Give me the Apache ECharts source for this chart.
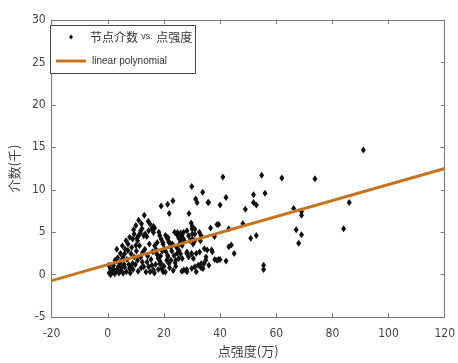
<!DOCTYPE html>
<html>
<head>
<meta charset="utf-8">
<script src="https://cdn.jsdelivr.net/npm/echarts@6/dist/echarts.min.js"></script>
<style>
  html, body { margin: 0; padding: 0; background: #fff; }
  #chart { width: 458px; height: 363px; }
</style>
</head>
<body>
<div id="chart"></div>
<script>
// Tick values along each axis
const xTicks = [-20, 0, 20, 40, 60, 80, 100, 120];
const yTicks = [-5, 0, 5, 10, 15, 20, 25, 30];

// Series names
const scatterName = '节点介数 vs. 点强度';
const fitName = 'linear polynomial';

// Node strength (万) vs. betweenness (千): one [x, y] pair per node
const nodePoints = [
  [91.0, 14.7], [41.0, 11.5], [54.8, 11.7], [62.0, 11.4], [73.8, 11.3],
  [35.9, 8.5], [42.1, 9.1], [40.0, 8.2], [51.9, 9.4], [56.0, 9.6],
  [51.9, 8.5], [52.9, 8.2], [49.0, 7.7], [66.2, 7.8], [69.0, 7.4],
  [69.0, 7.0], [86.0, 8.5], [84.0, 5.4], [67.1, 5.3], [69.0, 4.7],
  [68.0, 3.7], [39.5, 5.9], [38.9, 5.9], [48.1, 6.0], [43.1, 5.4],
  [50.9, 4.3], [52.9, 4.6], [38.0, 4.5], [43.1, 3.3], [44.0, 3.5],
  [45.0, 2.5], [35.4, 2.9], [37.0, 2.9], [38.1, 1.8], [39.5, 1.8],
  [40.0, 1.8], [42.1, 1.6], [55.5, 1.1], [55.5, 0.6],
  [29.9, 10.4], [33.8, 9.7], [31.3, 8.9], [31.8, 8.5], [35.7, 8.5],
  [19.0, 8.1], [21.3, 8.3], [23.2, 8.7], [21.9, 7.2], [28.9, 7.2],
  [14.4, 6.3], [15.0, 6.0], [16.2, 5.7], [16.7, 5.5], [15.6, 5.4],
  [29.7, 6.1], [30.1, 5.7],
  [12.2, 5.4], [11.6, 4.9], [11.0, 4.6], [10.4, 4.3], [13.3, 4.8], [13.9, 4.5],
  [18.2, 5.0], [18.5, 4.6], [19.0, 4.2], [19.6, 3.8], [20.6, 4.6], [21.3, 4.2], [21.8, 3.8],
  [23.8, 5.0], [24.7, 4.7], [25.3, 4.3], [26.0, 4.9], [27.0, 5.0], [26.4, 4.6],
  [27.0, 4.2], [26.1, 4.0], [25.6, 3.6],
  [30.0, 5.4], [30.1, 4.8], [30.1, 4.2], [30.4, 3.6], [32.6, 5.0], [33.2, 4.6],
  [33.0, 4.0], [36.6, 5.5],
  [26.4, 0.4], [28.1, 0.6], [31.5, 0.35], [33.2, 0.8], [34.3, 1.3], [34.9, 1.7],
  [36.0, 1.1], [37.2, 2.7], [38.9, 1.7],
  [28.1, 2.5], [29.8, 2.5], [31.5, 2.5], [24.7, 2.5], [25.3, 1.9], [24.0, 1.4], [24.2, 1.0],
  [20.7, 2.7], [21.3, 2.3], [21.0, 1.7], [21.8, 1.3],
  [16.7, 3.4], [17.3, 2.9], [17.8, 2.3], [18.4, 1.7], [19.0, 1.3],
  [16.25, 4.97], [14.55, 5.16], [12.8, 4.58], [11.7, 5.16], [10.6, 4.0], [10.0, 3.43],
  [9.4, 4.78], [8.85, 4.2],
  [19.7, 3.62], [20.2, 3.04], [21.4, 4.39], [21.9, 3.81], [22.5, 3.24],
  [24.8, 4.97], [25.35, 4.39], [25.9, 3.81], [26.5, 3.43], [27.1, 4.0], [28.2, 5.16],
  [28.8, 4.58], [29.3, 4.0],
  [31.0, 5.35], [31.0, 4.78], [31.0, 4.0],
  [7.15, 2.85], [6.0, 2.47], [5.45, 2.08], [4.9, 1.7], [4.3, 1.31], [3.74, 0.93], [3.17, 0.54],
  [8.3, 2.47], [9.4, 2.08], [10.6, 1.7], [8.85, 1.31], [7.7, 0.74], [6.6, 0.35], [5.45, 0.16],
  [1.46, 0.54], [0.9, 0.74], [0.32, 1.12], [2.6, 1.7], [2.03, 1.12],
  [11.7, 2.08], [12.3, 1.5], [12.8, 0.93], [13.98, 1.5], [14.55, 0.93], [15.1, 0.35],
  [15.7, 1.12], [16.25, 0.54],
  [17.4, 2.47], [17.96, 1.89], [18.5, 1.31], [19.1, 0.74], [19.7, 0.35],
  [21.4, 2.08], [22.5, 1.7], [23.6, 2.27], [24.2, 1.7],
  [25.35, 2.85], [25.9, 2.47], [26.5, 1.89],
  [28.2, 2.66], [28.8, 2.08], [29.9, 2.47], [30.5, 1.89],
  [27.1, 0.54], [28.2, 0.35], [29.9, 0.74], [31.0, 0.93], [32.2, 1.12], [33.3, 1.31], [33.9, 0.74],
  [32.7, 2.66], [34.4, 3.04], [35.0, 2.08],
  [0.5, 0.2], [1.0, 0.0], [1.8, 0.3], [2.5, 0.1], [3.0, 1.6], [3.5, 2.0], [4.0, 0.2],
  [4.5, 2.5], [5.0, 0.8], [5.8, 1.2], [6.2, 3.0], [6.8, 1.8], [7.2, 3.6], [7.5, 1.2],
  [8.0, 0.2], [8.5, 3.2], [9.0, 0.6], [9.8, 1.2], [10.2, 2.8], [10.8, 0.4], [11.3, 3.4],
  [11.9, 0.8], [12.4, 2.6], [13.2, 3.0], [13.6, 0.3], [14.2, 2.2], [14.8, 3.6], [15.4, 1.8],
  [16.0, 2.7], [16.6, 0.2], [17.0, 1.2], [17.6, 3.8], [18.0, 0.6], [18.8, 2.2], [19.4, 2.8],
  [20.0, 1.0], [20.5, 0.3], [22.0, 0.8], [22.8, 2.8], [23.3, 0.5], [23.0, 3.6], [24.5, 3.2],
  [3.2, 3.0], [5.2, 3.4], [6.5, 4.0], [7.8, 4.4], [9.2, 5.3], [10.0, 5.8], [11.0, 6.4],
  [12.0, 6.0], [13.0, 7.0], [8.2, 0.9], [2.2, 0.6], [4.6, 0.5], [6.0, 0.9]
];

// Least-squares fit line, evaluated at both ends of the x range
const fitX = [-20, 120];
const fitY = [-0.7, 12.5];

const narrow = '"DejaVu Sans Condensed", "Liberation Sans Narrow", "Liberation Sans", sans-serif';
const latin = '"Liberation Sans", Arial, sans-serif';
const cjk = '"Noto Sans CJK SC", "Noto Sans", sans-serif';
const axisGray = '#777';
const fitColor = '#C8741E';

const chart = echarts.init(document.getElementById('chart'), null, { renderer: 'canvas' });

const xMin = xTicks[0], xMax = xTicks[xTicks.length - 1], xStep = xTicks[1] - xTicks[0];
const yMin = yTicks[0], yMax = yTicks[yTicks.length - 1], yStep = yTicks[1] - yTicks[0];

const boxAxis = {
  axisLine: { show: true, onZero: false, lineStyle: { color: axisGray, width: 1 } },
  axisTick: { show: true, inside: true, length: 4, lineStyle: { color: axisGray } },
  splitLine: { show: false }
};

// Boxed legend in the upper-left corner of the plot: a small diamond key for the
// scatter series and a short orange stroke for the fitted line.
const legendBox = { x: 50, y: 25, w: 145, h: 48 };
const row1 = legendBox.y + 12, row2 = legendBox.y + 36, keyX = legendBox.x + 21;
const legendGraphic = [
  {
    type: 'rect', z: 10,
    shape: { x: legendBox.x + 0.5, y: legendBox.y + 0.5, width: legendBox.w, height: legendBox.h },
    style: { fill: '#fff', stroke: '#444', lineWidth: 1 }
  },
  {
    type: 'polygon', z: 11,
    shape: { points: [[keyX, row1 - 2.5], [keyX + 2, row1], [keyX, row1 + 2.5], [keyX - 2, row1]] },
    style: { fill: '#111' }
  },
  {
    type: 'text', z: 11, x: legendBox.x + 40, y: row1,
    style: {
      text: '{c|节点介数} {v|vs.} {c|点强度}',
      verticalAlign: 'middle',
      rich: {
        c: { fontFamily: cjk, fontSize: 12, fill: '#333' },
        v: { fontFamily: latin, fontSize: 9, fill: '#333' }
      }
    }
  },
  {
    type: 'line', z: 11,
    shape: { x1: keyX - 15, y1: row2, x2: keyX + 15, y2: row2 },
    style: { stroke: fitColor, lineWidth: 3 }
  },
  {
    type: 'text', z: 11, x: legendBox.x + 42, y: row2,
    style: { text: fitName, verticalAlign: 'middle', fontFamily: latin, fontSize: 10, fill: '#333' }
  }
];

chart.setOption({
  animation: false,
  backgroundColor: '#fff',
  grid: { left: 39, right: 9, top: 20, bottom: 40, containLabel: false },
  graphic: legendGraphic,
  xAxis: [
    Object.assign({
      type: 'value', position: 'bottom', min: xMin, max: xMax, interval: xStep,
      name: '点强度(万)', nameLocation: 'middle', nameGap: 25,
      nameTextStyle: { fontFamily: cjk, fontSize: 13, color: '#444' },
      axisLabel: { fontFamily: narrow, fontSize: 12, color: '#444', margin: 11 }
    }, boxAxis),
    Object.assign({
      type: 'value', position: 'top', min: xMin, max: xMax, interval: xStep,
      axisLabel: { show: false }
    }, boxAxis)
  ],
  yAxis: [
    Object.assign({
      type: 'value', position: 'left', min: yMin, max: yMax, interval: yStep,
      name: '介数(千)', nameLocation: 'middle', nameGap: 18, nameRotate: 90,
      nameTextStyle: { fontFamily: cjk, fontSize: 13, color: '#444' },
      axisLabel: { fontFamily: narrow, fontSize: 12, color: '#444', margin: 6 }
    }, boxAxis),
    Object.assign({
      type: 'value', position: 'right', min: yMin, max: yMax, interval: yStep,
      axisLabel: { show: false }
    }, boxAxis)
  ],
  series: [
    {
      name: scatterName,
      type: 'scatter',
      xAxisIndex: 0,
      yAxisIndex: 0,
      symbol: 'diamond',
      symbolSize: [5, 7],
      itemStyle: { color: '#111', opacity: 1 },
      data: nodePoints,
      z: 2
    },
    {
      name: fitName,
      type: 'line',
      xAxisIndex: 0,
      yAxisIndex: 0,
      showSymbol: false,
      symbol: 'none',
      lineStyle: { color: fitColor, width: 3 },
      itemStyle: { color: fitColor },
      data: fitX.map((x, i) => [x, fitY[i]]),
      z: 3
    }
  ]
});
</script>
</body>
</html>
